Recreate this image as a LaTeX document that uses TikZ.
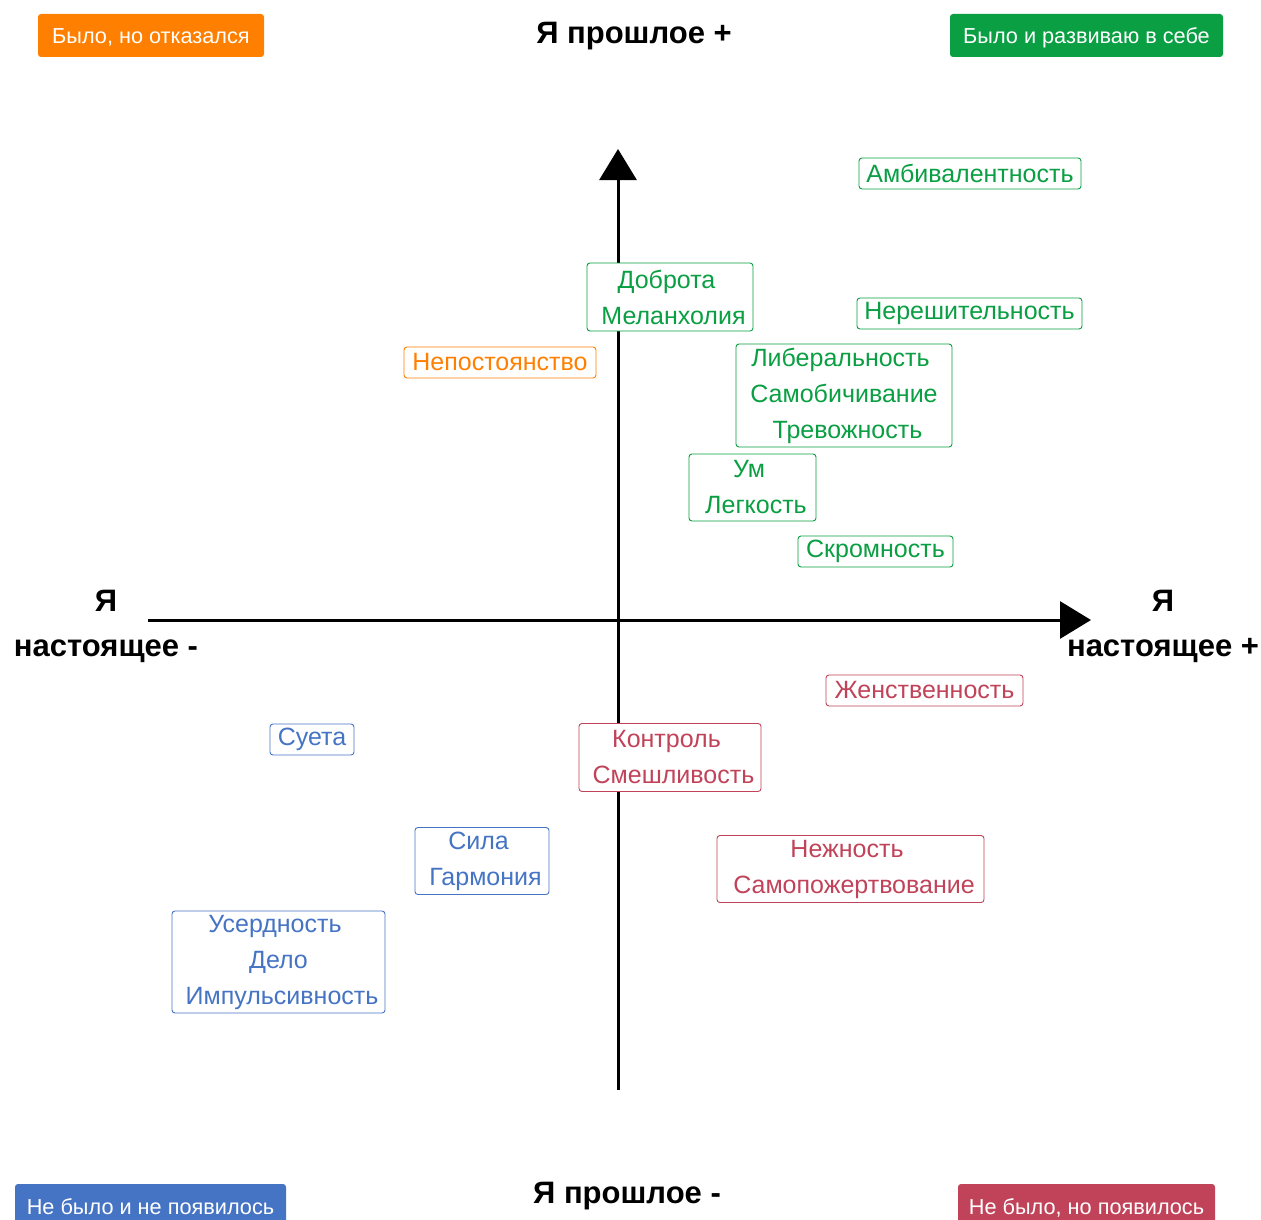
\documentclass[tikz,border=0pt]{standalone}
\usepackage{fontspec}
\setmainfont{Liberation Sans}
\usetikzlibrary{arrows.meta}
\definecolor{cgreen}{HTML}{0A9F43}
\definecolor{corange}{HTML}{FF8000}
\definecolor{cred}{HTML}{C1435A}
\definecolor{cblue}{HTML}{4674C4}
% lines of a multi-line tag drift slightly to the right
\newcommand\lft[1]{#1\kern7pt}
\newcommand\rgt[1]{\kern7pt#1}
\tikzset{
  tag/.style={draw=#1, text=#1, fill=white, rounded corners=3pt, line width=0.9pt,
    align=center, inner sep=0pt, font=\fontsize{25}{36}\selectfont},
  legend/.style={fill=#1, text=white, rounded corners=3pt, inner sep=0pt,
    text height=17pt, text depth=0pt, font=\fontsize{21.7}{24}\selectfont},
  axislabel/.style={font=\fontsize{31}{45}\selectfont\bfseries, align=center, inner sep=0pt},
  axis/.style={line width=3pt, -{Triangle[length=31pt,width=37pt]}}
}
\begin{document}
\begin{tikzpicture}[x=1pt,y=-1pt]
\useasboundingbox[fill=white] (0,0) rectangle (1261,1220);

% axes
\coordinate (vb) at (618,1090);
\coordinate (vt) at (618,149);
\coordinate (hl) at (148,620);
\coordinate (hr) at (1091,620);
\draw[axis] (vb) -- (vt);
\draw[axis] (hl) -- (hr);

% axis captions
\node[axislabel] (top) at (634,36) {Я прошлое +};
\node[axislabel] (bottom) at (627,1196) {Я прошлое -};
\node[axislabel] (left) at (106,626) {Я\\настоящее -};
\node[axislabel] (right) at (1163,626) {Я\\настоящее +};

% legend
\node[legend=corange, minimum width=226, minimum height=43] (lo) at (151,35.5) {Было, но отказался};
\node[legend=cgreen, minimum width=273, minimum height=43] (lg) at (1086.5,35.5) {Было и развиваю в себе};
\node[legend=cblue, minimum width=271, minimum height=43] (lb) at (150.5,1205.5) {Не было и не появилось};
\node[legend=cred, minimum width=257, minimum height=43] (lr) at (1086.5,1205.5) {Не было, но появилось};

% traits
\node[tag=cgreen, minimum width=222, minimum height=31] (t1) at (970,173.5) {Амбивалентность};
\node[tag=cgreen, minimum width=166, minimum height=68] (t2) at (670,297) {\lft{Доброта}\\\rgt{Меланхолия}};
\node[tag=cgreen, minimum width=225, minimum height=31] (t3) at (969.5,313.5) {Нерешительность};
\node[tag=corange, minimum width=192, minimum height=31] (t4) at (500,362.5) {Непостоянство};
\node[tag=cgreen, minimum width=216, minimum height=103] (t5) at (844,395.5) {\lft{Либеральность}\\Самобичивание\\\rgt{Тревожность}};
\node[tag=cgreen, minimum width=127, minimum height=67] (t6) at (752.5,487.5) {\lft{Ум}\\\rgt{Легкость}};
\node[tag=cgreen, minimum width=155, minimum height=31] (t7) at (875.5,551.5) {Скромность};
\node[tag=cred, minimum width=197, minimum height=31] (t8) at (924.5,690.5) {Женственность};
\node[tag=cblue, minimum width=84, minimum height=31] (t9) at (312,739.5) {Суета};
\node[tag=cred, minimum width=182, minimum height=68] (t10) at (670,757.5) {\lft{Контроль}\\\rgt{Смешливость}};
\node[tag=cblue, minimum width=134, minimum height=67] (t11) at (482,861) {\lft{Сила}\\\rgt{Гармония}};
\node[tag=cred, minimum width=267, minimum height=67] (t12) at (850.5,869) {\lft{Нежность}\\\rgt{Самопожертвование}};
\node[tag=cblue, minimum width=213, minimum height=102] (t13) at (278.5,962) {\lft{Усердность}\\Дело\\\rgt{Импульсивность}};
\end{tikzpicture}
\end{document}
